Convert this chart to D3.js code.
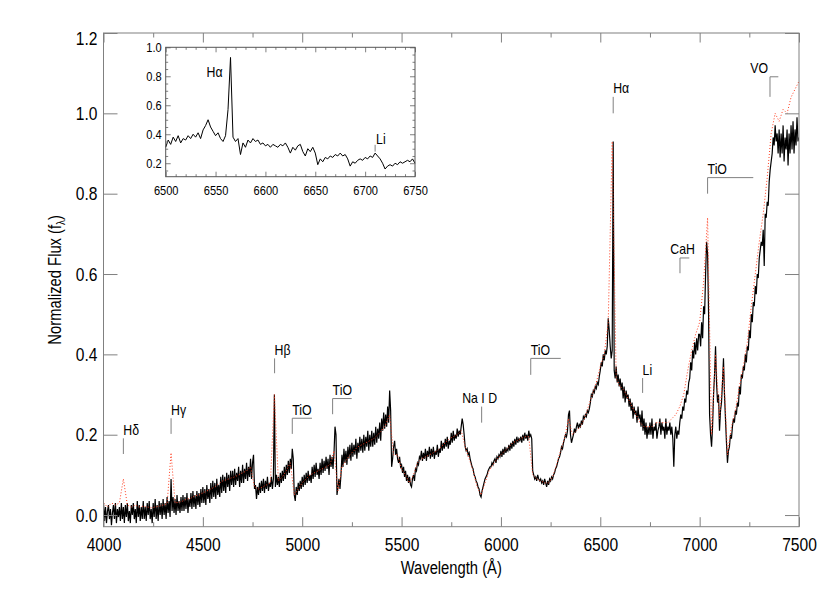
<!DOCTYPE html>
<html>
<head>
<meta charset="utf-8">
<script src="https://cdn.jsdelivr.net/npm/d3@7"></script>
<style>
body { margin: 0; background: #fff; }
svg text { font-family: "Liberation Sans", Arial, sans-serif; }
</style>
</head>
<body>
<svg id="chart" width="830" height="593"></svg>
<script>
// observed spectrum, 5 A steps from 4000 A (one row = 50 A)
const waveStart = 4000;
const waveStep = 5;
const flux = [
  .03,-.015,.02,-.02,.01,.025,-.01,.015,-.025,.005,
  .025,-.01,.03,-.02,.015,-.005,.02,-.015,.03,-.01,
  .02,-.02,.025,-.005,.03,-.015,.01,-.02,.025,0,
  .03,-.01,.015,-.02,.035,-.005,.025,-.015,.02,-.01,
  .035,-.01,.02,-.015,.03,0,.035,-.01,.015,-.02,
  .03,-.005,.04,-.01,.025,-.015,.035,0,.03,-.01,
  .04,0,.03,-.01,.045,.005,.035,-.005,.09,.01,
  .045,.005,.04,0,.05,.01,.035,.005,.045,.01,
  .05,.01,.045,.015,.055,.005,.04,.02,.055,.015,
  .06,.02,.05,.015,.06,.025,.055,.02,.065,.03,
  .07,.03,.065,.025,.075,.04,.065,.03,.08,.04,
  .085,.045,.08,.04,.09,.05,.075,.045,.095,.055,
  .1,.06,.095,.055,.105,.07,.1,.06,.11,.075,
  .11,.07,.115,.075,.105,.085,.12,.07,.11,.08,
  .125,.08,.115,.09,.13,.085,.12,.095,.14,.09,
  .13,.15,.065,.075,.04,.07,.05,.08,.055,.085,
  .06,.09,.055,.085,.065,.095,.06,.08,.07,.095,
  .065,.09,.30,.07,.1,.075,.095,.07,.105,.08,
  .11,.085,.12,.09,.125,.1,.135,.105,.14,.115,
  .165,.14,.05,.035,.07,.05,.08,.06,.085,.065,
  .095,.07,.1,.075,.105,.08,.11,.085,.1,.08,
  .12,.09,.125,.095,.13,.1,.115,.09,.13,.1,
  .14,.105,.135,.11,.145,.115,.14,.1,.15,.12,
  .145,.115,.155,.22,.2,.05,.07,.09,.065,.1,
  .15,.12,.165,.13,.16,.125,.17,.14,.175,.135,
  .18,.145,.175,.15,.19,.14,.18,.155,.195,.16,
  .19,.155,.2,.16,.195,.17,.21,.16,.2,.17,
  .21,.17,.205,.175,.22,.18,.215,.19,.23,.185,
  .24,.21,.255,.215,.25,.22,.27,.23,.31,.26,
  .12,.14,.17,.185,.15,.165,.14,.13,.145,.12,
  .125,.105,.12,.095,.11,.085,.1,.08,.095,.075,
  .07,.09,.1,.085,.115,.11,.13,.125,.145,.14,
  .16,.135,.155,.14,.165,.135,.16,.145,.17,.14,
  .165,.145,.17,.14,.16,.15,.175,.145,.165,.155,
  .185,.16,.18,.165,.19,.17,.195,.165,.185,.175,
  .205,.18,.21,.185,.2,.19,.215,.195,.21,.2,
  .22,.24,.225,.2,.17,.16,.165,.15,.155,.14,
  .13,.12,.115,.1,.095,.085,.08,.07,.065,.05,
  .045,.06,.07,.08,.09,.095,.1,.11,.115,.12,
  .12,.13,.125,.135,.14,.13,.145,.14,.15,.145,
  .16,.145,.165,.15,.17,.155,.165,.16,.175,.16,
  .18,.165,.185,.17,.19,.175,.195,.18,.19,.185,
  .195,.18,.2,.185,.205,.19,.2,.185,.21,.195,
  .2,.19,.11,.1,.09,.095,.085,.1,.09,.085,
  .09,.08,.085,.075,.09,.08,.07,.085,.075,.09,
  .085,.095,.09,.1,.105,.115,.12,.13,.14,.145,
  .155,.17,.165,.18,.19,.2,.195,.21,.25,.26,
  .2,.18,.19,.2,.215,.205,.22,.23,.215,.225,
  .22,.235,.225,.245,.24,.25,.245,.26,.255,.265,
  .28,.3,.295,.31,.305,.32,.315,.33,.325,.345,
  .36,.38,.37,.4,.385,.41,.4,.42,.49,.46,
  .42,.39,.41,.93,.36,.34,.37,.33,.35,.32,
  .34,.31,.33,.29,.32,.28,.31,.29,.3,.27,
  .29,.26,.28,.24,.27,.25,.26,.23,.27,.24,
  .25,.22,.26,.21,.24,.2,.23,.19,.22,.2,
  .23,.2,.24,.19,.22,.21,.23,.19,.21,.22,
  .24,.2,.23,.21,.22,.19,.24,.2,.22,.21,
  .23,.2,.22,.19,.12,.2,.22,.19,.21,.2,
  .23,.25,.24,.27,.26,.29,.28,.31,.3,.33,
  .34,.38,.36,.41,.39,.43,.4,.44,.41,.45,
  .45,.42,.48,.44,.52,.5,.6,.68,.65,.5,
  .25,.2,.17,.22,.3,.35,.42,.33,.28,.3,
  .21,.26,.28,.33,.39,.3,.24,.18,.13,.16,
  .17,.2,.19,.22,.24,.23,.26,.25,.28,.27,
  .32,.3,.35,.34,.37,.36,.4,.38,.42,.41,
  .46,.44,.5,.48,.53,.52,.57,.55,.6,.59,
  .64,.66,.68,.67,.71,.62,.75,.74,.78,.77,
  .83,.86,.88,.9,.94,.92,.97,.93,.95,.9,
  .96,.89,.95,.9,.97,.88,.94,.91,.96,.87,
  .95,.9,.97,.91,.98,.9,.96,.92,.99,.93,
  .94
];

// template spectrum (red dotted), 20 A steps from 4000 A
const templateStep = 20;
const templateFlux = [
  .03,.02,.03,.025,.03,.09,.025,.02,.025,.02,
  .022,.02,.018,.02,.022,.025,.028,.155,.03,.032,
  .035,.04,.042,.048,.05,.055,.06,.065,.07,.078,
  .085,.088,.092,.095,.1,.105,.11,.12,.07,.065,
  .07,.075,.08,.3,.085,.095,.11,.13,.05,.065,
  .08,.09,.1,.105,.11,.115,.12,.125,.16,.06,
  .12,.135,.15,.16,.17,.175,.18,.185,.19,.2,
  .21,.225,.25,.15,.15,.115,.1,.08,.1,.13,
  .14,.145,.15,.155,.16,.17,.18,.19,.195,.2,
  .21,.17,.14,.11,.07,.05,.08,.11,.125,.14,
  .15,.16,.17,.18,.185,.19,.195,.195,.1,.09,
  .085,.08,.08,.095,.125,.16,.19,.24,.2,.21,
  .22,.24,.27,.3,.33,.37,.4,.48,.93,.34,
  .32,.31,.29,.27,.25,.23,.22,.22,.22,.23,
  .23,.23,.23,.24,.25,.27,.3,.36,.41,.45,
  .48,.58,.74,.2,.4,.24,.37,.15,.22,.26,
  .32,.37,.43,.52,.6,.68,.75,.84,.95,1.0,
  .98,1.01,1.0,1.04,1.06,1.08
];

// inset: zoom on H-alpha region, 2.5 A steps from 6500 A
const insetStart = 6500;
const insetStep = 2.5;
const insetFlux = [
  .31,.36,.33,.38,.35,.39,.34,.37,.36,.39,
  .37,.40,.38,.41,.37,.43,.46,.50,.45,.42,
  .39,.41,.37,.35,.39,.57,.93,.38,.35,.37,
  .26,.34,.31,.36,.34,.37,.35,.36,.33,.34,
  .32,.33,.31,.33,.32,.31,.33,.32,.34,.31,
  .27,.31,.29,.32,.33,.28,.25,.30,.28,.31,
  .27,.19,.23,.21,.24,.23,.25,.24,.26,.25,
  .27,.25,.26,.23,.18,.21,.20,.22,.23,.22,
  .24,.23,.25,.24,.27,.25,.23,.20,.16,.18,
  .19,.18,.20,.19,.21,.20,.21,.22,.21,.23,
  .20
];

const xTicks = [4000, 4500, 5000, 5500, 6000, 6500, 7000, 7500];
const xMinorTicks = [4250, 4750, 5250, 5750, 6250, 6750, 7250];
const yTicks = [0, 0.2, 0.4, 0.6, 0.8, 1.0, 1.2];
const insetXTicks = [6500, 6550, 6600, 6650, 6700, 6750];
const insetYTicks = [0.2, 0.4, 0.6, 0.8, 1.0];

// line identifications: label, wavelength, flux of top / bottom of mark, end of band
const featLabels = ["H\u03b4", "H\u03b3", "H\u03b2", "TiO", "TiO", "Na I D", "TiO", "H\u03b1", "Li", "CaH", "TiO", "VO"];
const featWaves  = [4100, 4340, 4861, 4950, 5153, 5903, 6150, 6565, 6713, 6901, 7040, 7354];
const featTop    = [0.191, 0.241, 0.390, 0.241, 0.290, 0.270, 0.390, 1.041, 0.341, 0.640, 0.840, 1.091];
const featBottom = [0.152, 0.202, 0.353, 0.202, 0.251, 0.230, 0.349, 1.000, 0.304, 0.602, 0.800, 1.041];
const featEnd    = [null, null, null, 5049, 5249, null, 6301, null, null, 6948, 7270, 7396];
const featAlign  = ["start", "start", "start", "start", "start", "middle", "start", "start", "start", "middle", "start", "end"];

const axisColor = "#808080";
const fontSize = 19;
const narrow = 0.82; // squeeze Liberation Sans to a narrow face

const svg = d3.select("#chart");

const x = d3.scaleLinear().domain([4000, 7500]).range([103.5, 799]);
const y = d3.scaleLinear().domain([-0.029, 1.2]).range([526.7, 33]);

const pLeft = x.range()[0], pRight = x.range()[1];
const pTop = y.range()[1], pBottom = y.range()[0];

svg.append("defs").append("clipPath").attr("id", "plotClip")
  .append("rect")
    .attr("x", pLeft).attr("y", pTop)
    .attr("width", pRight - pLeft).attr("height", pBottom - pTop);

// spectra
const specLine = d3.line()
  .x(function(d, i){ return x(waveStart + i * waveStep); })
  .y(function(d){ return y(d); });

const tmplLine = d3.line()
  .x(function(d, i){ return x(waveStart + i * templateStep); })
  .y(function(d){ return y(d); });

const plot = svg.append("g").attr("clip-path", "url(#plotClip)");

plot.append("path")
  .attr("d", specLine(flux))
  .attr("fill", "none")
  .attr("stroke", "#000")
  .attr("stroke-width", 1.2);

plot.append("path")
  .attr("d", tmplLine(templateFlux))
  .attr("fill", "none")
  .attr("stroke", "#ff3d1f")
  .attr("stroke-width", 1)
  .attr("stroke-dasharray", "1,2");

// axes (ticks pointing inward)
function styleAxis(g){
  g.select(".domain").remove();
  g.selectAll("line").attr("stroke", axisColor);
  g.attr("font-size", fontSize);
  g.selectAll("text").attr("fill", "#000");
}

svg.append("g")
  .attr("transform", `translate(0,${pBottom})`)
  .call(d3.axisBottom(x).tickValues(xTicks).tickSize(-9.5).tickPadding(11).tickFormat(d3.format("d")))
  .call(styleAxis);
svg.append("g")
  .attr("transform", `translate(0,${pBottom})`)
  .call(d3.axisBottom(x).tickValues(xMinorTicks).tickSize(-4.5).tickFormat(""))
  .call(styleAxis);
svg.append("g")
  .attr("transform", `translate(0,${pTop})`)
  .call(d3.axisTop(x).tickValues(xTicks).tickSize(-9.5).tickFormat(""))
  .call(styleAxis);
svg.append("g")
  .attr("transform", `translate(0,${pTop})`)
  .call(d3.axisTop(x).tickValues(xMinorTicks).tickSize(-4.5).tickFormat(""))
  .call(styleAxis);

svg.append("g")
  .attr("transform", `translate(${pLeft},0)`)
  .call(d3.axisLeft(y).tickValues(yTicks).tickSize(-14).tickPadding(6).tickFormat(d3.format(".1f")))
  .call(styleAxis)
  .selectAll("text").filter(function(d){ return d === 1.2; }).attr("dy", "0.62em");
svg.append("g")
  .attr("transform", `translate(${pRight},0)`)
  .call(d3.axisRight(y).tickValues(yTicks).tickSize(-14).tickFormat(""))
  .call(styleAxis);

svg.append("rect")
  .attr("x", pLeft).attr("y", pTop)
  .attr("width", pRight - pLeft).attr("height", pBottom - pTop)
  .attr("fill", "none")
  .attr("stroke", axisColor);

// axis titles
svg.append("text")
  .attr("x", (pLeft + pRight) / 2).attr("y", 574)
  .attr("text-anchor", "middle")
  .attr("font-size", 18)
  .text("Wavelength (\u00c5)");

const yTitle = svg.append("text")
  .attr("transform", `translate(61,${(pTop + pBottom) / 2}) rotate(-90)`)
  .attr("text-anchor", "middle")
  .attr("font-size", 18);
yTitle.append("tspan").text("Normalized Flux (f");
yTitle.append("tspan").attr("font-size", 12).attr("dy", 4).text("\u03bb");
yTitle.append("tspan").attr("dy", -4).text(")");

// line identifications
const feats = svg.append("g").attr("font-size", 15);
featLabels.forEach(function(label, i){
  const x0 = x(featWaves[i]);
  const yTop = y(featTop[i]);
  const yBot = y(featBottom[i]);
  let path = `M${x0},${yBot}V${yTop}`;
  let tx = x0;
  if (featEnd[i] !== null) {
    path += `H${x(featEnd[i])}`;
  }
  if (featAlign[i] === "middle") {
    tx = featEnd[i] !== null ? (x0 + x(featEnd[i])) / 2 - 2 : x0 - 2;
  } else if (featAlign[i] === "end") {
    tx = x0 - 2;
  }
  feats.append("path")
    .attr("d", path)
    .attr("fill", "none")
    .attr("stroke", axisColor);
  feats.append("text")
    .attr("x", tx)
    .attr("y", yTop - 3.5)
    .attr("text-anchor", featAlign[i])
    .text(label);
});

// inset
const ix = d3.scaleLinear().domain([6500, 6750]).range([165.7, 415]);
const iy = d3.scaleLinear().domain([0.107, 1.0]).range([176.7, 47.3]);
const iLeft = ix.range()[0], iRight = ix.range()[1];
const iTop = iy.range()[1], iBottom = iy.range()[0];

const inset = svg.append("g");
inset.append("rect")
  .attr("x", iLeft).attr("y", iTop)
  .attr("width", iRight - iLeft).attr("height", iBottom - iTop)
  .attr("fill", "#fff");

inset.append("path")
  .attr("d", d3.line()
    .x(function(d, i){ return ix(insetStart + i * insetStep); })
    .y(function(d){ return iy(d); })(insetFlux))
  .attr("fill", "none")
  .attr("stroke", "#000")
  .attr("stroke-width", 1);

const iMinorX = d3.range(6510, 6750, 10).filter(function(d){ return d % 50 !== 0; });
const iMinorY = d3.range(0.15, 1.0, 0.05).filter(function(d){ return Math.abs(d * 5 - Math.round(d * 5)) > 0.01; });

function insetAxis(axis, pos){
  inset.append("g").attr("transform", pos).call(axis).call(styleAxis).attr("font-size", 13.5);
}
insetAxis(d3.axisBottom(ix).tickValues(insetXTicks).tickSize(-5).tickPadding(9).tickFormat(d3.format("d")), `translate(0,${iBottom})`);
insetAxis(d3.axisBottom(ix).tickValues(iMinorX).tickSize(-2.5).tickFormat(""), `translate(0,${iBottom})`);
insetAxis(d3.axisTop(ix).tickValues(insetXTicks).tickSize(-5).tickFormat(""), `translate(0,${iTop})`);
insetAxis(d3.axisTop(ix).tickValues(iMinorX).tickSize(-2.5).tickFormat(""), `translate(0,${iTop})`);
insetAxis(d3.axisLeft(iy).tickValues(insetYTicks).tickSize(-5).tickPadding(4).tickFormat(d3.format(".1f")), `translate(${iLeft},0)`);
insetAxis(d3.axisLeft(iy).tickValues(iMinorY).tickSize(-2.5).tickFormat(""), `translate(${iLeft},0)`);
insetAxis(d3.axisRight(iy).tickValues(insetYTicks).tickSize(-5).tickFormat(""), `translate(${iRight},0)`);
insetAxis(d3.axisRight(iy).tickValues(iMinorY).tickSize(-2.5).tickFormat(""), `translate(${iRight},0)`);

inset.append("rect")
  .attr("x", iLeft).attr("y", iTop)
  .attr("width", iRight - iLeft).attr("height", iBottom - iTop)
  .attr("fill", "none")
  .attr("stroke", "#555");

inset.append("text")
  .attr("x", ix(6541)).attr("y", iy(0.797))
  .attr("font-size", 15)
  .text("H\u03b1");
inset.append("path")
  .attr("d", `M${ix(6710)},${iy(0.28)}V${iy(0.327)}`)
  .attr("stroke", axisColor);
inset.append("text")
  .attr("x", ix(6711)).attr("y", iy(0.334))
  .attr("font-size", 15)
  .text("Li");

// narrow lettering, like the original's condensed face
svg.selectAll("text").each(function(){
  const w = this.getComputedTextLength();
  if (w > 0) {
    d3.select(this)
      .attr("textLength", w * narrow)
      .attr("lengthAdjust", "spacingAndGlyphs");
  }
});
</script>
</body>
</html>
